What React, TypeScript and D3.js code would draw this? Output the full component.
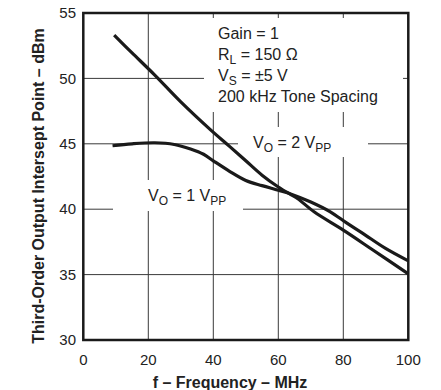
import React from "react";
import * as d3 from "d3";

const freq1 = [9, 15, 22, 28, 33, 37, 40, 45, 50, 55, 60, 64, 70, 76, 81, 86, 93, 100];
const vals1 = [44.85, 45.0, 45.08, 44.95, 44.6, 44.2, 43.7, 42.9, 42.2, 41.8, 41.45, 41.15, 40.55, 39.8, 38.95, 38.15, 37.0, 36.05];
const freq2 = [9.5, 15, 22, 30, 39, 45, 50, 55, 60, 64, 66, 71, 80, 89, 100];
const vals2 = [53.3, 51.95, 50.25, 48.2, 46.1, 44.8, 43.7, 42.6, 41.7, 41.1, 40.8, 39.8, 38.4, 36.9, 35.05];
const xTicks = [0, 20, 40, 60, 80, 100];
const yTicks = [30, 35, 40, 45, 50, 55];
const xGrid = [20, 40, 60, 80];
const yGrid = [35, 40, 45, 50];
const notes = ["Gain = 1", "RL = 150 Ω", "VS = ±5 V", "200 kHz Tone Spacing"];

const FONT = "'Liberation Sans', Arial, Helvetica, sans-serif";

export default function App() {
  const x = d3.scaleLinear().domain([0, 100]).range([83.3, 408.3]);
  const y = d3.scaleLinear().domain([30, 55]).range([340, 13]);
  const line = d3
    .line<[number, number]>()
    .x((d) => x(d[0]))
    .y((d) => y(d[1]))
    .curve(d3.curveCatmullRom.alpha(0.5));
  const s1 = freq1.map((f, i) => [f, vals1[i]] as [number, number]);
  const s2 = freq2.map((f, i) => [f, vals2[i]] as [number, number]);
  const [x0, x1] = x.range();
  const [y0, y1] = y.range();

  const sub = (main: string, s: string, rest: string) => (
    <>
      {main}
      <tspan fontSize={12} dy={4}>{s}</tspan>
      <tspan dy={-4}>{rest}</tspan>
    </>
  );

  return (
    <div style={{ position: "absolute", left: 0, top: 0 }}>
      <svg width={441} height={390} style={{ display: "block", background: "#fff" }} fontFamily={FONT}>
        <rect x={0} y={0} width={441} height={390} fill="#fff" />
        {xGrid.map((g) => (
          <line key={"xg" + g} x1={x(g)} x2={x(g)} y1={y1} y2={y0} stroke="#3a3a3a" strokeWidth={1} />
        ))}
        {yGrid.map((g) => (
          <line key={"yg" + g} x1={x0} x2={x1} y1={y(g)} y2={y(g)} stroke="#3a3a3a" strokeWidth={1} />
        ))}
        {/* label backgrounds */}
        <rect x={204} y={18} width={199} height={94} fill="#fff" />
        <rect x={238} y={127} width={130} height={30} fill="#fff" />
        <rect x={113} y={180} width={130} height={31} fill="#fff" />

        <path d={line(s1) || ""} fill="none" stroke="#1a1a1a" strokeWidth={3.2} strokeLinejoin="round" />
        <path d={line(s2) || ""} fill="none" stroke="#1a1a1a" strokeWidth={3.2} strokeLinejoin="round" />

        <rect x={x0} y={y1} width={x1 - x0} height={y0 - y1} fill="none" stroke="#1a1a1a" strokeWidth={2.5} />

        {yTicks.map((t) => (
          <text key={"yt" + t} x={76} y={y(t)} dy="0.35em" textAnchor="end" fontSize={15} fill="#222">
            {t}
          </text>
        ))}
        {xTicks.map((t) => (
          <text key={"xt" + t} x={x(t)} y={365} textAnchor="middle" fontSize={15} fill="#222">
            {t}
          </text>
        ))}
        <text x={230} y={388} textAnchor="middle" fontSize={16} fontWeight="bold" fill="#222">
          f – Frequency – MHz
        </text>
        <text
          transform={`translate(44, 186) rotate(-90)`}
          textAnchor="middle"
          fontSize={16}
          fontWeight="bold"
          fill="#222"
        >
          Third-Order Output Intersept Point – dBm
        </text>

        <g fontSize={16} fill="#222">
          <text x={218} y={38.5}>{notes[0]}</text>
          <text x={218} y={59.5}>{sub("R", "L", notes[1].slice(2))}</text>
          <text x={218} y={81}>{sub("V", "S", notes[2].slice(2))}</text>
          <text x={218} y={102}>{notes[3]}</text>
          <text x={253} y={147.5}>
            {sub("V", "O", " = 2 V")}
            <tspan fontSize={12} dy={4}>PP</tspan>
          </text>
          <text x={148} y={200.5}>
            {sub("V", "O", " = 1 V")}
            <tspan fontSize={12} dy={4}>PP</tspan>
          </text>
        </g>
      </svg>
    </div>
  );
}
